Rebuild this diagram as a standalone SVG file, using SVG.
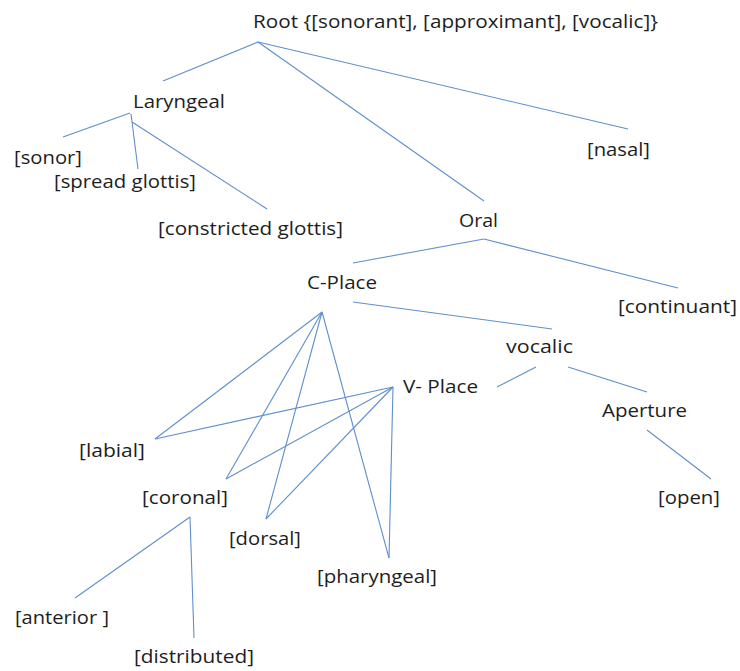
<svg xmlns="http://www.w3.org/2000/svg" width="740" height="671" viewBox="0 0 740 671">
<style>
text { font-family: "Open Sans", "Liberation Sans", sans-serif; font-size: 18px; fill: #1e1e1e; }
.c line { stroke: #5f8fcc; stroke-width: 1.1; fill: none; }
</style>
<rect width="740" height="671" fill="#ffffff"/>
<g class="c" id="connectors">
  <line x1="258" y1="42" x2="163" y2="81"/>
  <line x1="258" y1="42" x2="484" y2="201"/>
  <line x1="258" y1="42" x2="628" y2="129"/>
  <line x1="130" y1="113" x2="63" y2="137"/>
  <line x1="131" y1="114" x2="138" y2="169"/>
  <line x1="132" y1="122" x2="267" y2="209"/>
  <line x1="484" y1="239" x2="353" y2="263"/>
  <line x1="484" y1="239" x2="678" y2="288"/>
  <line x1="353" y1="302" x2="552" y2="329"/>
  <line x1="536" y1="367" x2="497" y2="387"/>
  <line x1="568" y1="367" x2="647" y2="392"/>
  <line x1="647" y1="430" x2="711" y2="479"/>
  <line x1="322" y1="312" x2="155" y2="439"/>
  <line x1="322" y1="312" x2="226" y2="479"/>
  <line x1="322" y1="312" x2="266" y2="519"/>
  <line x1="322" y1="312" x2="389" y2="558"/>
  <line x1="393" y1="387" x2="155" y2="439"/>
  <line x1="393" y1="387" x2="226" y2="479"/>
  <line x1="393" y1="387" x2="266" y2="519"/>
  <line x1="393" y1="387" x2="389" y2="558"/>
  <line x1="190" y1="517" x2="75" y2="598"/>
  <line x1="190" y1="517" x2="194" y2="638"/>
</g>
<g id="root"><text x="253" y="28" textLength="405" lengthAdjust="spacingAndGlyphs">Root {[sonorant], [approximant], [vocalic]}</text></g>
<g id="laryngeal"><text x="133" y="108" textLength="92" lengthAdjust="spacingAndGlyphs">Laryngeal</text></g>
<g id="sonor"><text x="14" y="164" textLength="68" lengthAdjust="spacingAndGlyphs">[sonor]</text></g>
<g id="spread-glottis"><text x="54" y="188" textLength="142" lengthAdjust="spacingAndGlyphs">[spread glottis]</text></g>
<g id="constricted-glottis"><text x="158" y="235" textLength="185" lengthAdjust="spacingAndGlyphs">[constricted glottis]</text></g>
<g id="nasal"><text x="587" y="156" textLength="63" lengthAdjust="spacingAndGlyphs">[nasal]</text></g>
<g id="oral"><text x="459" y="227" textLength="39" lengthAdjust="spacingAndGlyphs">Oral</text></g>
<g id="c-place"><text x="307" y="289" textLength="70" lengthAdjust="spacingAndGlyphs">C-Place</text></g>
<g id="continuant"><text x="618" y="313" textLength="119" lengthAdjust="spacingAndGlyphs">[continuant]</text></g>
<g id="vocalic"><text x="506" y="353" textLength="67" lengthAdjust="spacingAndGlyphs">vocalic</text></g>
<g id="v-place"><text x="403" y="393" textLength="75" lengthAdjust="spacingAndGlyphs">V- Place</text></g>
<g id="aperture"><text x="602" y="417" textLength="85" lengthAdjust="spacingAndGlyphs">Aperture</text></g>
<g id="labial"><text x="79" y="457" textLength="66" lengthAdjust="spacingAndGlyphs">[labial]</text></g>
<g id="coronal"><text x="142" y="504" textLength="86" lengthAdjust="spacingAndGlyphs">[coronal]</text></g>
<g id="open"><text x="658" y="504" textLength="62" lengthAdjust="spacingAndGlyphs">[open]</text></g>
<g id="dorsal"><text x="229" y="545" textLength="72" lengthAdjust="spacingAndGlyphs">[dorsal]</text></g>
<g id="pharyngeal"><text x="317" y="583" textLength="120" lengthAdjust="spacingAndGlyphs">[pharyngeal]</text></g>
<g id="anterior"><text x="15" y="624" textLength="94" lengthAdjust="spacingAndGlyphs">[anterior ]</text></g>
<g id="distributed"><text x="134" y="663" textLength="120" lengthAdjust="spacingAndGlyphs">[distributed]</text></g>
</svg>
